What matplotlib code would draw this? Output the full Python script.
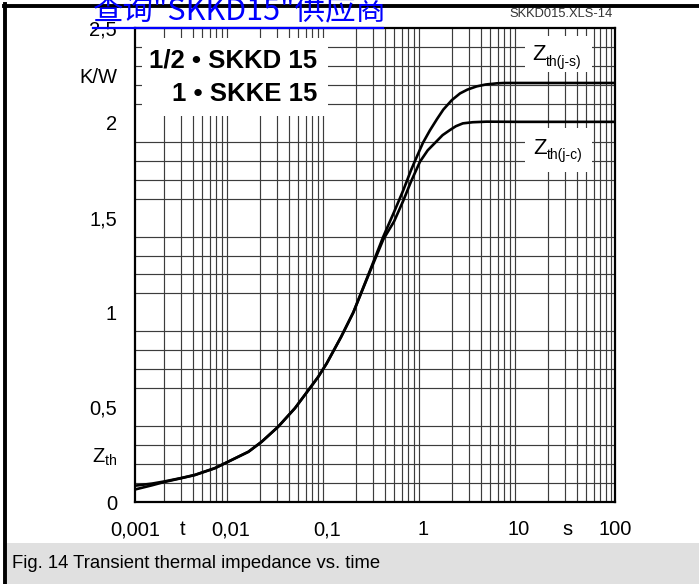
import matplotlib
matplotlib.use("Agg")
import matplotlib.pyplot as plt
from matplotlib.lines import Line2D
from matplotlib.patches import Rectangle
from matplotlib.ticker import FixedLocator, NullFormatter
import numpy as np

plt.rcParams['font.family'] = ['Liberation Sans', 'DejaVu Sans']
plt.rcParams['mathtext.fontset'] = 'custom'
plt.rcParams['mathtext.rm'] = 'Liberation Sans'
plt.rcParams['mathtext.it'] = 'Liberation Sans'

# Zth(j-s) : junction to heatsink
t_js = [0.001, 0.0015, 0.002, 0.003, 0.0042, 0.0068, 0.0102, 0.0152, 0.0209,
        0.031, 0.0464, 0.064, 0.081, 0.099, 0.14, 0.188, 0.28, 0.386, 0.5,
        0.624, 0.75, 0.86, 1.0, 1.18, 1.4, 1.63, 2.0, 2.43, 2.9, 3.62, 4.5,
        5.86, 7.0, 10, 100]
z_js = [0.066, 0.088, 0.105, 0.125, 0.142, 0.178, 0.222, 0.265, 0.318,
        0.397, 0.495, 0.59, 0.66, 0.73, 0.87, 1.0, 1.22, 1.40, 1.53,
        1.645, 1.75, 1.82, 1.895, 1.96, 2.02, 2.07, 2.12, 2.155, 2.175, 2.192, 2.202,
        2.208, 2.21, 2.21, 2.21]

# Zth(j-c) : junction to case
t_jc = [0.001, 0.0015, 0.002, 0.003, 0.0042, 0.0068, 0.0102, 0.0152, 0.0209,
        0.031, 0.0464, 0.064, 0.081, 0.099, 0.14, 0.188, 0.28, 0.386, 0.5,
        0.624, 0.75, 0.93, 1.12, 1.37, 1.6, 1.91, 2.2, 2.6, 3.3, 4.6, 10, 100]
z_jc = [0.086, 0.097, 0.108, 0.126, 0.143, 0.179, 0.222, 0.265, 0.318,
        0.397, 0.495, 0.59, 0.66, 0.73, 0.87, 1.0, 1.215, 1.385, 1.48,
        1.59, 1.69, 1.795, 1.855, 1.90, 1.935, 1.962, 1.982, 1.997, 2.003, 2.006, 2.005, 2.005]

x_ticks = [0.001, 0.00316, 0.01, 0.1, 1, 10, 32, 100]
x_labels = ['0,001', 't', '0,01', '0,1', '1', '10', 's', '100']
y_ticks = [0, 0.25, 0.5, 1, 1.5, 2, 2.25, 2.5]
y_labels = ['0', r'Z$_{\mathrm{th}}$', '0,5', '1', '1,5', '2', 'K/W', '2,5']

W, H = 699, 584
fig = plt.figure(figsize=(W / 100, H / 100), dpi=100)


def fx(px):
    return px / W


def fy(py):
    return 1 - py / H


ax = fig.add_axes([fx(135), fy(502), fx(615) - fx(135), fy(28) - fy(502)])
ax.set_xscale('log')
ax.set_xlim(0.001, 100)
ax.set_ylim(0, 2.5)
ax.set_axisbelow(True)

# grid on minor positions only
vgrid = [k * 10.0 ** d for d in range(-3, 2) for k in range(1, 10)] + [100]
ax.xaxis.set_minor_locator(FixedLocator(vgrid))
ax.xaxis.set_minor_formatter(NullFormatter())
ax.yaxis.set_minor_locator(FixedLocator(np.arange(0, 2.51, 0.1)))
ax.grid(which='minor', color='#3c3c3c', lw=0.85)
ax.grid(which='major', visible=False)

ax.set_xticks(x_ticks)
ax.set_xticklabels(x_labels)
ax.set_yticks(y_ticks)
ax.set_yticklabels(y_labels)
ax.tick_params(which='both', length=0)
ax.tick_params(axis='x', labelsize=14.5, pad=13)
ax.tick_params(axis='y', labelsize=14.5, pad=13)
for s in ax.spines.values():
    s.set_linewidth(1.6)

ax.plot(t_js, z_js, color='black', lw=1.9, zorder=3, solid_joinstyle='round')
ax.plot(t_jc, z_jc, color='black', lw=1.9, zorder=3, solid_joinstyle='round')

# white boxes behind labels
for (x0, y0, x1, y1) in [(142, 38, 328, 116), (525, 36, 592, 72), (525, 128, 592, 172)]:
    ax.add_patch(Rectangle((fx(x0), fy(y1)), fx(x1) - fx(x0), fy(y0) - fy(y1),
                           transform=fig.transFigure, facecolor='white',
                           edgecolor='none', zorder=1))

fig.text(fx(317), fy(60), '1/2 \u2022 SKKD 15', ha='right', va='center',
         fontsize=18.5, fontweight='bold')
fig.text(fx(317), fy(94), '1 \u2022 SKKE 15', ha='right', va='center',
         fontsize=18.5, fontweight='bold')

fig.text(fx(532), fy(55), 'Z', ha='left', va='center', fontsize=16)
fig.text(fx(546), fy(62), 'th(j-s)', ha='left', va='center', fontsize=10)
fig.text(fx(533), fy(148), 'Z', ha='left', va='center', fontsize=16)
fig.text(fx(547), fy(155), 'th(j-c)', ha='left', va='center', fontsize=10)

fig.text(fx(613), fy(14), 'SKKD015.XLS-14', ha='right', va='center',
         fontsize=9.3, color='#333333')

# frame and caption band
fig.add_artist(Line2D([fx(4), fx(699)], [fy(5.5), fy(5.5)], color='black', lw=2.8))
fig.add_artist(Line2D([fx(4.5), fx(4.5)], [fy(4), fy(584)], color='black', lw=2.8))
fig.add_artist(Rectangle((fx(6), 0), 1 - fx(6), fy(543), transform=fig.transFigure,
                         facecolor='#e0e0e0', edgecolor='none'))
fig.text(fx(12), fy(564), 'Fig. 14 Transient thermal impedance vs. time',
         ha='left', va='center', fontsize=13.3)

# watermark link
fig.text(fx(93), fy(11), '查询"SKKD15"供应商', ha='left', va='center',
         fontsize=22, color='#0000ff',
         family=['Noto Sans CJK SC', 'DejaVu Sans'], zorder=10)
fig.add_artist(Line2D([fx(93), fx(383)], [fy(28), fy(28)], color='#0000ff', lw=1.6,
                      zorder=10))

fig.savefig('out.png', dpi=100)
